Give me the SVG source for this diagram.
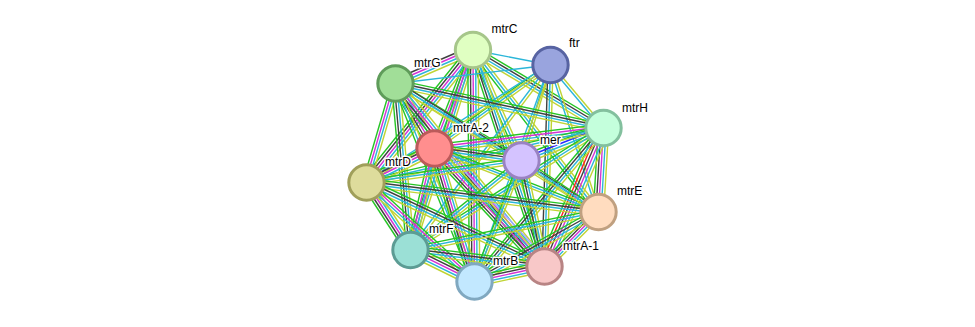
<svg xmlns="http://www.w3.org/2000/svg" xmlns:xlink="http://www.w3.org/1999/xlink" width="975" height="327" viewBox="0 0 975 327">
<style>
#edges use{fill:none;stroke-width:1.4}
.g{stroke:#25c425}.k{stroke:#404040}.m{stroke:#d433d4}.c{stroke:#2bb6d9}.y{stroke:#c0d434}.r{stroke:#ff2020}.b{stroke:#2a2aff}.h{stroke:#a8a8ff}
.node circle{stroke-width:3}
.node text{font-family:"Liberation Sans",Arial,sans-serif;font-size:12px;fill:#000;stroke:#fff;stroke-width:3;stroke-linejoin:round;paint-order:stroke}
</style>
<defs>
<path id="eCT" d="M473 50L550.5 65"/>
<path id="eCG" d="M473 50L395.5 83.5"/>
<path id="eCH" d="M473 50L603.5 128"/>
<path id="eCA" d="M473 50L434.5 148.5"/>
<path id="eCM" d="M473 50L521.5 160.5"/>
<path id="eCD" d="M473 50L366.5 182.5"/>
<path id="eCE" d="M473 50L598.5 212"/>
<path id="eCF" d="M473 50L410.5 250"/>
<path id="eCP" d="M473 50L544.5 266.5"/>
<path id="eCB" d="M473 50L474.5 281.5"/>
<path id="eTG" d="M550.5 65L395.5 83.5"/>
<path id="eTH" d="M550.5 65L603.5 128"/>
<path id="eTA" d="M550.5 65L434.5 148.5"/>
<path id="eTM" d="M550.5 65L521.5 160.5"/>
<path id="eTD" d="M550.5 65L366.5 182.5"/>
<path id="eTE" d="M550.5 65L598.5 212"/>
<path id="eTF" d="M550.5 65L410.5 250"/>
<path id="eTP" d="M550.5 65L544.5 266.5"/>
<path id="eTB" d="M550.5 65L474.5 281.5"/>
<path id="eGH" d="M395.5 83.5L603.5 128"/>
<path id="eGA" d="M395.5 83.5L434.5 148.5"/>
<path id="eGM" d="M395.5 83.5L521.5 160.5"/>
<path id="eGD" d="M395.5 83.5L366.5 182.5"/>
<path id="eGE" d="M395.5 83.5L598.5 212"/>
<path id="eGF" d="M395.5 83.5L410.5 250"/>
<path id="eGP" d="M395.5 83.5L544.5 266.5"/>
<path id="eGB" d="M395.5 83.5L474.5 281.5"/>
<path id="eHA" d="M603.5 128L434.5 148.5"/>
<path id="eHM" d="M603.5 128L521.5 160.5"/>
<path id="eHD" d="M603.5 128L366.5 182.5"/>
<path id="eHE" d="M603.5 128L598.5 212"/>
<path id="eHF" d="M603.5 128L410.5 250"/>
<path id="eHP" d="M603.5 128L544.5 266.5"/>
<path id="eHB" d="M603.5 128L474.5 281.5"/>
<path id="eAM" d="M434.5 148.5L521.5 160.5"/>
<path id="eAD" d="M434.5 148.5L366.5 182.5"/>
<path id="eAE" d="M434.5 148.5L598.5 212"/>
<path id="eAF" d="M434.5 148.5L410.5 250"/>
<path id="eAP" d="M434.5 148.5L544.5 266.5"/>
<path id="eAB" d="M434.5 148.5L474.5 281.5"/>
<path id="eMD" d="M521.5 160.5L366.5 182.5"/>
<path id="eME" d="M521.5 160.5L598.5 212"/>
<path id="eMF" d="M521.5 160.5L410.5 250"/>
<path id="eMP" d="M521.5 160.5L544.5 266.5"/>
<path id="eMB" d="M521.5 160.5L474.5 281.5"/>
<path id="eDE" d="M366.5 182.5L598.5 212"/>
<path id="eDF" d="M366.5 182.5L410.5 250"/>
<path id="eDP" d="M366.5 182.5L544.5 266.5"/>
<path id="eDB" d="M366.5 182.5L474.5 281.5"/>
<path id="eEF" d="M598.5 212L410.5 250"/>
<path id="eEP" d="M598.5 212L544.5 266.5"/>
<path id="eEB" d="M598.5 212L474.5 281.5"/>
<path id="eFP" d="M410.5 250L544.5 266.5"/>
<path id="eFB" d="M410.5 250L474.5 281.5"/>
<path id="ePB" d="M544.5 266.5L474.5 281.5"/>
</defs>
<g id="edges">
<use href="#eCT" class="c"/>
<use href="#eCG" y="-4.5" class="k"/><use href="#eCG" y="-1.5" class="m"/><use href="#eCG" y="1.5" class="c"/><use href="#eCG" y="4.5" class="y"/>
<use href="#eCH" y="-4.5" class="g"/><use href="#eCH" y="-1.5" class="k"/><use href="#eCH" y="1.5" class="c"/><use href="#eCH" y="4.5" class="y"/>
<use href="#eCA" x="-3.9" class="g"/><use href="#eCA" x="-1.3" class="m"/><use href="#eCA" x="1.3" class="c"/><use href="#eCA" x="3.9" class="y"/>
<use href="#eCM" x="-3" class="g"/><use href="#eCM" class="c"/><use href="#eCM" x="3" class="y"/>
<use href="#eCD" x="-6.8" class="g"/><use href="#eCD" x="-3.4" class="k"/><use href="#eCD" class="m"/><use href="#eCD" x="3.4" class="c"/><use href="#eCD" x="6.8" class="y"/>
<use href="#eCE" x="-3.4" class="g"/><use href="#eCE" class="c"/><use href="#eCE" x="3.4" class="y"/>
<use href="#eCF" x="-3.9" class="g"/><use href="#eCF" x="-1.3" class="m"/><use href="#eCF" x="1.3" class="c"/><use href="#eCF" x="3.9" class="y"/>
<use href="#eCP" x="-3.9" class="g"/><use href="#eCP" x="-1.3" class="k"/><use href="#eCP" x="1.3" class="c"/><use href="#eCP" x="3.9" class="y"/>
<use href="#eCB" x="-5.2" class="g"/><use href="#eCB" x="-2.6" class="k"/><use href="#eCB" class="m"/><use href="#eCB" x="2.6" class="c"/><use href="#eCB" x="5.2" class="y"/>
<use href="#eTG" class="c"/>
<use href="#eTH" x="-1.7" class="c"/><use href="#eTH" x="1.7" class="y"/>
<use href="#eTA" y="-3" class="g"/><use href="#eTA" class="c"/><use href="#eTA" y="3" class="y"/>
<use href="#eTM" x="-1.3" class="c"/><use href="#eTM" x="1.3" class="y"/>
<use href="#eTD" y="-1.5" class="c"/><use href="#eTD" y="1.5" class="y"/>
<use href="#eTE" x="-1.3" class="c"/><use href="#eTE" x="1.3" class="y"/>
<use href="#eTF" x="-1.7" class="c"/><use href="#eTF" x="1.7" class="y"/>
<use href="#eTP" x="-2.6" class="k"/><use href="#eTP" class="c"/><use href="#eTP" x="2.6" class="y"/>
<use href="#eTB" x="-1.3" class="c"/><use href="#eTB" x="1.3" class="y"/>
<use href="#eGH" y="-3.9" class="g"/><use href="#eGH" y="-1.3" class="k"/><use href="#eGH" y="1.3" class="c"/><use href="#eGH" y="3.9" class="y"/>
<use href="#eGA" x="-6" class="g"/><use href="#eGA" x="-3" class="k"/><use href="#eGA" class="m"/><use href="#eGA" x="3" class="c"/><use href="#eGA" x="6" class="y"/>
<use href="#eGM" y="-3" class="g"/><use href="#eGM" class="c"/><use href="#eGM" y="3" class="y"/>
<use href="#eGD" x="-3.9" class="g"/><use href="#eGD" x="-1.3" class="m"/><use href="#eGD" x="1.3" class="c"/><use href="#eGD" x="3.9" class="y"/>
<use href="#eGE" y="-3" class="k"/><use href="#eGE" class="c"/><use href="#eGE" y="3" class="y"/>
<use href="#eGF" x="-3.9" class="g"/><use href="#eGF" x="-1.3" class="k"/><use href="#eGF" x="1.3" class="c"/><use href="#eGF" x="3.9" class="y"/>
<use href="#eGP" x="-6.8" class="g"/><use href="#eGP" x="-3.4" class="k"/><use href="#eGP" class="m"/><use href="#eGP" x="3.4" class="c"/><use href="#eGP" x="6.8" class="y"/>
<use href="#eGB" x="-3" class="g"/><use href="#eGB" class="c"/><use href="#eGB" x="3" class="y"/>
<use href="#eHA" y="-3.9" class="g"/><use href="#eHA" y="-1.3" class="m"/><use href="#eHA" y="1.3" class="c"/><use href="#eHA" y="3.9" class="y"/>
<use href="#eHM" y="-4.5" class="g"/><use href="#eHM" y="-1.5" class="b"/><use href="#eHM" y="1.5" class="c"/><use href="#eHM" y="4.5" class="y"/>
<use href="#eHD" y="-2.6" class="g"/><use href="#eHD" class="c"/><use href="#eHD" y="2.6" class="y"/>
<use href="#eHE" x="-5.2" class="g"/><use href="#eHE" x="-2.6" class="k"/><use href="#eHE" class="m"/><use href="#eHE" x="2.6" class="c"/><use href="#eHE" x="5.2" class="y"/>
<use href="#eHF" y="-3" class="g"/><use href="#eHF" class="c"/><use href="#eHF" y="3" class="y"/>
<use href="#eHP" x="-7.5" class="g"/><use href="#eHP" x="-4.5" class="r"/><use href="#eHP" x="-1.5" class="k"/><use href="#eHP" x="1.5" class="m"/><use href="#eHP" x="4.5" class="c"/><use href="#eHP" x="7.5" class="y"/>
<use href="#eHB" x="-5.1" class="g"/><use href="#eHB" x="-1.7" class="k"/><use href="#eHB" x="1.7" class="c"/><use href="#eHB" x="5.1" class="y"/>
<use href="#eAM" y="-3.9" class="g"/><use href="#eAM" y="-1.3" class="k"/><use href="#eAM" y="1.3" class="c"/><use href="#eAM" y="3.9" class="y"/>
<use href="#eAD" y="-6" class="g"/><use href="#eAD" y="-3" class="k"/><use href="#eAD" class="m"/><use href="#eAD" y="3" class="c"/><use href="#eAD" y="6" class="y"/>
<use href="#eAE" y="-2.6" class="g"/><use href="#eAE" class="c"/><use href="#eAE" y="2.6" class="y"/>
<use href="#eAF" x="-3.9" class="g"/><use href="#eAF" x="-1.3" class="m"/><use href="#eAF" x="1.3" class="c"/><use href="#eAF" x="3.9" class="y"/>
<use href="#eAP" x="-8.5" class="g"/><use href="#eAP" x="-5.1" class="k"/><use href="#eAP" x="-1.7" class="m"/><use href="#eAP" x="1.7" class="c"/><use href="#eAP" x="5.1" class="y"/><use href="#eAP" x="8.5" class="h"/>
<use href="#eAB" x="-5.2" class="g"/><use href="#eAB" x="-2.6" class="k"/><use href="#eAB" class="m"/><use href="#eAB" x="2.6" class="c"/><use href="#eAB" x="5.2" class="y"/>
<use href="#eMD" y="-2.6" class="g"/><use href="#eMD" class="c"/><use href="#eMD" y="2.6" class="y"/>
<use href="#eME" y="-3" class="g"/><use href="#eME" class="c"/><use href="#eME" y="3" class="y"/>
<use href="#eMF" y="-3.4" class="g"/><use href="#eMF" class="c"/><use href="#eMF" y="3.4" class="y"/>
<use href="#eMP" x="-3.9" class="g"/><use href="#eMP" x="-1.3" class="k"/><use href="#eMP" x="1.3" class="c"/><use href="#eMP" x="3.9" class="y"/>
<use href="#eMB" x="-2.6" class="g"/><use href="#eMB" class="c"/><use href="#eMB" x="2.6" class="y"/>
<use href="#eDE" y="-3.9" class="g"/><use href="#eDE" y="-1.3" class="k"/><use href="#eDE" y="1.3" class="c"/><use href="#eDE" y="3.9" class="y"/>
<use href="#eDF" x="-6" class="g"/><use href="#eDF" x="-3" class="k"/><use href="#eDF" class="m"/><use href="#eDF" x="3" class="c"/><use href="#eDF" x="6" class="y"/>
<use href="#eDP" y="-4.5" class="g"/><use href="#eDP" y="-1.5" class="k"/><use href="#eDP" y="1.5" class="c"/><use href="#eDP" y="4.5" class="y"/>
<use href="#eDB" y="-5.1" class="g"/><use href="#eDB" y="-1.7" class="m"/><use href="#eDB" y="1.7" class="c"/><use href="#eDB" y="5.1" class="y"/>
<use href="#eEF" y="-2.6" class="g"/><use href="#eEF" class="c"/><use href="#eEF" y="2.6" class="y"/>
<use href="#eEP" x="-6.8" class="g"/><use href="#eEP" x="-3.4" class="k"/><use href="#eEP" class="m"/><use href="#eEP" x="3.4" class="c"/><use href="#eEP" x="6.8" class="y"/>
<use href="#eEB" y="-4.5" class="g"/><use href="#eEB" y="-1.5" class="k"/><use href="#eEB" y="1.5" class="c"/><use href="#eEB" y="4.5" class="y"/>
<use href="#eFP" y="-3.9" class="g"/><use href="#eFP" y="-1.3" class="k"/><use href="#eFP" y="1.3" class="c"/><use href="#eFP" y="3.9" class="y"/>
<use href="#eFB" y="-6" class="g"/><use href="#eFB" y="-3" class="k"/><use href="#eFB" class="m"/><use href="#eFB" y="3" class="c"/><use href="#eFB" y="6" class="y"/>
<use href="#ePB" y="-5.2" class="g"/><use href="#ePB" y="-2.6" class="k"/><use href="#ePB" class="m"/><use href="#ePB" y="2.6" class="c"/><use href="#ePB" y="5.2" class="y"/>
</g>
<g id="mtrC" class="node"><circle cx="473" cy="50" r="17.7" fill="#e0ffc2" stroke="#a6c68a"/><text x="491.5" y="33">mtrC</text></g>
<g id="ftr" class="node"><circle cx="550.5" cy="65" r="17.7" fill="#99a4de" stroke="#5763a2"/><text x="569" y="47">ftr</text></g>
<g id="mtrG" class="node"><circle cx="395.5" cy="83.5" r="17.7" fill="#a1de98" stroke="#5f9c5a"/><text x="414" y="66.5">mtrG</text></g>
<g id="mtrH" class="node"><circle cx="603.5" cy="128" r="17.7" fill="#c4ffdc" stroke="#83c09e"/><text x="622" y="111.5">mtrH</text></g>
<g id="mtrA-2" class="node"><circle cx="434.5" cy="148.5" r="17.7" fill="#ff8e8e" stroke="#bb5a5a"/><text x="453" y="131.5">mtrA-2</text></g>
<g id="mer" class="node"><circle cx="521.5" cy="160.5" r="17.7" fill="#d4c3ff" stroke="#9a82c2"/><text x="540" y="143.5">mer</text></g>
<g id="mtrD" class="node"><circle cx="366.5" cy="182.5" r="17.7" fill="#dedc9c" stroke="#a09f5a"/><text x="385" y="165.5">mtrD</text></g>
<g id="mtrE" class="node"><circle cx="598.5" cy="212" r="17.7" fill="#ffdcbf" stroke="#c0a080"/><text x="617" y="195">mtrE</text></g>
<g id="mtrF" class="node"><circle cx="410.5" cy="250" r="17.7" fill="#9be0d6" stroke="#5c9c94"/><text x="429" y="233">mtrF</text></g>
<g id="mtrA-1" class="node"><circle cx="544.5" cy="266.5" r="17.7" fill="#f8c8c8" stroke="#b88484"/><text x="563" y="249.5">mtrA-1</text></g>
<g id="mtrB" class="node"><circle cx="474.5" cy="281.5" r="17.7" fill="#c2e8ff" stroke="#80a8c0"/><text x="493" y="264.5">mtrB</text></g>
</svg>
